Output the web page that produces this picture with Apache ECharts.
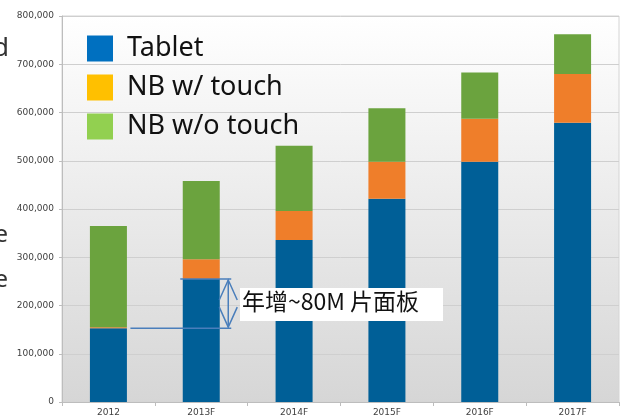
<!DOCTYPE html>
<html>
<head>
<meta charset="utf-8">
<script src="https://cdn.jsdelivr.net/npm/echarts@6/dist/echarts.min.js"></script>
<style>
  html, body { margin: 0; padding: 0; background: #fff; }
  #main { width: 627px; height: 418px; }
</style>
</head>
<body>
<div id="main"></div>
<script>
// 年份
const years = ['2012', '2013F', '2014F', '2015F', '2016F', '2017F'];
// 各段数值
const tablet = [153000, 255000, 336000, 421000, 498000, 579000];
const nbTouch = [2000, 41000, 60000, 77000, 89000, 101000];
const nbNoTouch = [210000, 162000, 135000, 111000, 96000, 82000];
const yTicks = [0, 100000, 200000, 300000, 400000, 500000, 600000, 700000, 800000];

const chart = echarts.init(document.getElementById('main'));

const option = {
    animation: false,
    grid: {
        left: 62,
        right: 8,
        top: 16,
        bottom: 16,
        show: true,
        borderColor: '#d4d4d4',
        borderWidth: 1,
        backgroundColor: {
            type: 'linear', x: 0, y: 0, x2: 0, y2: 1,
            colorStops: [
                { offset: 0, color: '#ffffff' },
                { offset: 1, color: '#d6d6d6' }
            ]
        }
    },
    legend: {
        orient: 'vertical',
        left: 87,
        top: 35,
        padding: 0,
        itemWidth: 26,
        itemHeight: 26,
        itemGap: 12,
        icon: 'rect',
        selectedMode: false,
        textStyle: {
            fontFamily: 'Noto Sans',
            fontSize: 27,
            color: '#111',
            padding: [0, 0, 0, 9]
        },
        data: [
            { name: 'Tablet', itemStyle: { color: '#0070c0' } },
            { name: 'NB w/ touch', itemStyle: { color: '#ffc000' } },
            { name: 'NB w/o touch', itemStyle: { color: '#92d050' } }
        ]
    },
    xAxis: {
        type: 'category',
        data: years,
        axisLine: { lineStyle: { color: '#bdbdbd' } },
        axisTick: { show: true, length: 4, lineStyle: { color: '#bdbdbd' } },
        axisLabel: {
            fontFamily: 'DejaVu Sans',
            fontSize: 9,
            color: '#404040',
            margin: 6
        }
    },
    yAxis: {
        type: 'value',
        min: yTicks[0],
        max: yTicks[yTicks.length - 1],
        interval: 100000,
        axisLine: { show: true, lineStyle: { color: '#bdbdbd' } },
        axisTick: { show: true, length: 3, lineStyle: { color: '#bdbdbd' } },
        splitLine: { lineStyle: { color: '#cfcfcf' } },
        axisLabel: {
            fontFamily: 'DejaVu Sans',
            fontSize: 9,
            color: '#404040',
            margin: 8,
            formatter: v => v.toLocaleString('en-US')
        }
    },
    series: [
        { name: 'Tablet', type: 'bar', stack: 'all', data: tablet, barWidth: 37, itemStyle: { color: '#005f97' } },
        { name: 'NB w/ touch', type: 'bar', stack: 'all', data: nbTouch, barWidth: 37, itemStyle: { color: '#ef7e2a' } },
        { name: 'NB w/o touch', type: 'bar', stack: 'all', data: nbNoTouch, barWidth: 37, itemStyle: { color: '#6ba33e' } }
    ]
};
chart.setOption(option);

// 标注：两条横线 + 双向箭头 + 文字
const yLow = chart.convertToPixel({ yAxisIndex: 0 }, tablet[0]);
const yHigh = chart.convertToPixel({ yAxisIndex: 0 }, tablet[1]);
const x0 = chart.convertToPixel({ xAxisIndex: 0 }, years[0]);
const x1 = chart.convertToPixel({ xAxisIndex: 0 }, years[1]);
const ax = x1 + 27;
const lineStyle = { stroke: '#4a7ebb', lineWidth: 1.5, fill: null };

chart.setOption({
    graphic: [
        { type: 'line', shape: { x1: x0 + 22, y1: yLow, x2: ax + 3, y2: yLow }, style: lineStyle, z: 100 },
        { type: 'line', shape: { x1: x1 - 21, y1: yHigh, x2: ax + 3, y2: yHigh }, style: lineStyle, z: 100 },
        { type: 'line', shape: { x1: ax, y1: yHigh + 1, x2: ax, y2: yLow - 1 }, style: lineStyle, z: 100 },
        { type: 'polyline', shape: { points: [[ax - 9, yHigh + 21], [ax, yHigh + 1], [ax + 9, yHigh + 21]] }, style: lineStyle, z: 100 },
        { type: 'polyline', shape: { points: [[ax - 9, yLow - 21], [ax, yLow - 1], [ax + 9, yLow - 21]] }, style: lineStyle, z: 100 },
        { type: 'rect', shape: { x: 240, y: 288, width: 203, height: 33 }, style: { fill: '#ffffff' }, z: 100 },
        {
            type: 'text', left: 242, top: 290, z: 101,
            style: { text: '年增~80M 片面板', font: '23px "Noto Sans CJK SC"', fill: '#111' }
        },
        // 左侧被裁掉的文字残片
        { type: 'text', x: 9, y: 36, style: { text: 'd', font: '26px "Noto Sans"', fill: '#333', align: 'right' } },
        { type: 'text', x: 8, y: 223, style: { text: 'e', font: '24px "Noto Sans"', fill: '#333', align: 'right' } },
        { type: 'text', x: 8, y: 268, style: { text: 'e', font: '24px "Noto Sans"', fill: '#333', align: 'right' } }
    ]
});
</script>
</body>
</html>
